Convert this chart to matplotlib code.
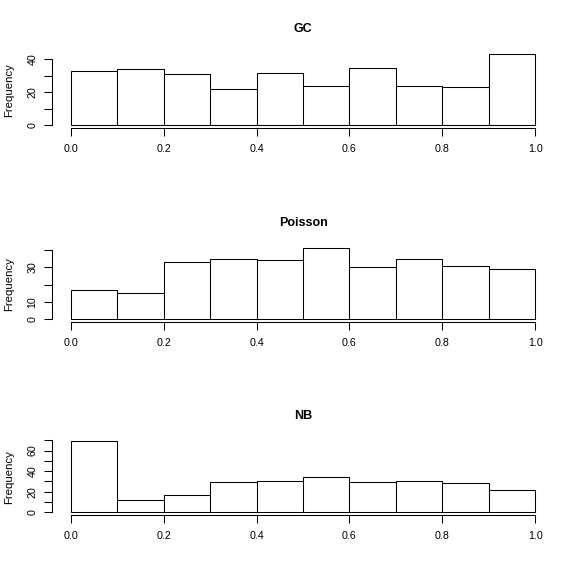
import matplotlib
matplotlib.use("Agg")
import matplotlib.pyplot as plt
import numpy as np

plt.rcParams['font.family'] = ['Liberation Sans', 'DejaVu Sans']

titles = ["GC", "Poisson", "NB"]
bin_edges = [0.0, 0.1, 0.2, 0.3, 0.4, 0.5, 0.6, 0.7, 0.8, 0.9, 1.0]
gc_counts = [33, 34, 31, 22, 32, 24, 35, 24, 23, 43]
poisson_counts = [17, 15, 33, 35, 34, 41, 30, 35, 31, 29]
nb_counts = [69, 12, 17, 29, 30, 34, 29, 30, 28, 22]
counts_list = [gc_counts, poisson_counts, nb_counts]

y_ticks = [[0, 10, 20, 30, 40],
           [0, 10, 20, 30, 40],
           [0, 10, 20, 30, 40, 50, 60, 70]]
y_labels = [["0", "", "20", "", "40"],
            ["0", "10", "", "30", ""],
            ["0", "", "20", "", "40", "", "60", ""]]
x_ticks = [0.0, 0.2, 0.4, 0.6, 0.8, 1.0]
x_labels = ["0.0", "0.2", "0.4", "0.6", "0.8", "1.0"]

W, H = 581, 580
fig = plt.figure(figsize=(W / 100, H / 100), dpi=100)

left_px, right_px = 52.1, 553.9
bottoms_px = [128.3, 322.1, 515.1]
height_px = 76.7

for i in range(3):
    ax = fig.add_axes([left_px / W, (H - bottoms_px[i]) / H,
                       (right_px - left_px) / W, height_px / H])
    edges = np.array(bin_edges)
    counts = np.array(counts_list[i])
    widths = np.diff(edges)
    ax.bar(edges[:-1], counts, width=widths, align='edge',
           facecolor='white', edgecolor='black', linewidth=0.75)
    ymax = counts.max()
    ax.set_xlim(-0.04, 1.04)
    ax.set_ylim(-0.04 * ymax, 1.04 * ymax)
    for s in ['top', 'right']:
        ax.spines[s].set_visible(False)
    ax.spines['left'].set_bounds(y_ticks[i][0], y_ticks[i][-1])
    ax.spines['bottom'].set_bounds(0, 1)
    ax.spines['left'].set_linewidth(0.75)
    ax.spines['bottom'].set_linewidth(0.75)
    ax.set_xticks(x_ticks)
    ax.set_xticklabels(x_labels)
    ax.set_yticks(y_ticks[i])
    ax.set_yticklabels(y_labels[i])
    ax.tick_params(axis='both', length=5.5, width=0.75, labelsize=7.7,
                   color='black')
    ax.tick_params(axis='x', pad=6)
    ax.tick_params(axis='y', pad=5)
    for lab in ax.get_yticklabels():
        lab.set_rotation(90)
        lab.set_va('center')
    ax.set_title(titles[i], fontsize=9, fontweight='bold', pad=14)
    yc = bottoms_px[i] - height_px / 2
    fig.text(9 / W, (H - yc) / H, "Frequency", rotation=90,
             ha='center', va='center', fontsize=8.2)

fig.savefig("out.png", dpi=100, facecolor='white')
